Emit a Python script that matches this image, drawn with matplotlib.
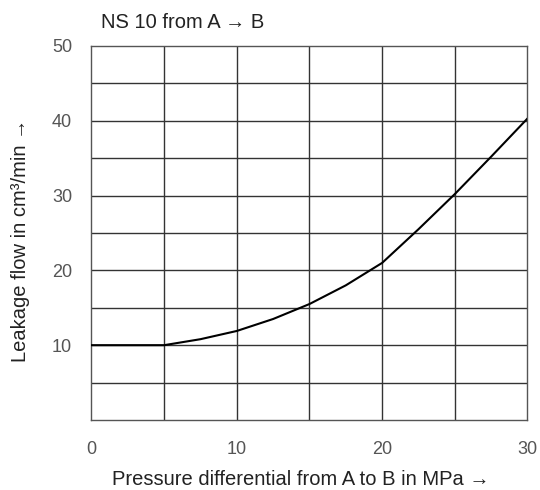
import matplotlib.pyplot as plt

# leakage curve
pressure = [0, 5, 7.5, 10, 12.5, 15, 17.5, 20, 22.5, 25, 27.5, 30]
leakage = [10, 10, 10.8, 11.9, 13.5, 15.5, 18.0, 21.0, 25.5, 30.2, 35.2, 40.3]

x_ticks = [0, 10, 20, 30]
y_ticks = [10, 20, 30, 40, 50]

plt.rcParams['font.family'] = ['Liberation Sans', 'DejaVu Sans']


def main():
    fig = plt.figure(figsize=(5.4, 4.9), dpi=100)
    ax = fig.add_axes([0.1694, 0.1429, 0.8074, 0.7633])

    ax.set_xlim(0, 30)
    ax.set_ylim(0, 50)

    # grid every 5 units
    for v in range(5, 30, 5):
        ax.axvline(v, color='#333333', lw=1.0, zorder=1)
    for v in range(5, 50, 5):
        ax.axhline(v, color='#333333', lw=1.0, zorder=1)
    for s in ax.spines.values():
        s.set_color('#555555')
        s.set_linewidth(1.0)

    ax.plot(pressure, leakage, color='black', lw=1.5, zorder=3)

    ax.set_xticks(x_ticks)
    ax.set_yticks(y_ticks)
    ax.tick_params(axis='x', length=0, pad=15, labelcolor='#555555', labelsize=13)
    ax.tick_params(axis='y', length=0, pad=14, labelcolor='#555555', labelsize=13)

    ax.set_xlabel('Pressure differential from A to B in MPa \u2192', fontsize=14.5,
                  color='#222222', va='center')
    ax.xaxis.set_label_coords(0.48, -0.158)
    ax.set_ylabel('Leakage flow in cm\u00b3/min \u2192', fontsize=14.5,
                  color='#222222', va='center')
    ax.yaxis.set_label_coords(-0.162, 0.48)
    fig.text(0.187, 0.943, 'NS 10 from A \u2192 B', fontsize=14.5, color='#222222',
             ha='left', va='baseline')

    fig.savefig('out.png', dpi=100)


if __name__ == "__main__":
    main()
